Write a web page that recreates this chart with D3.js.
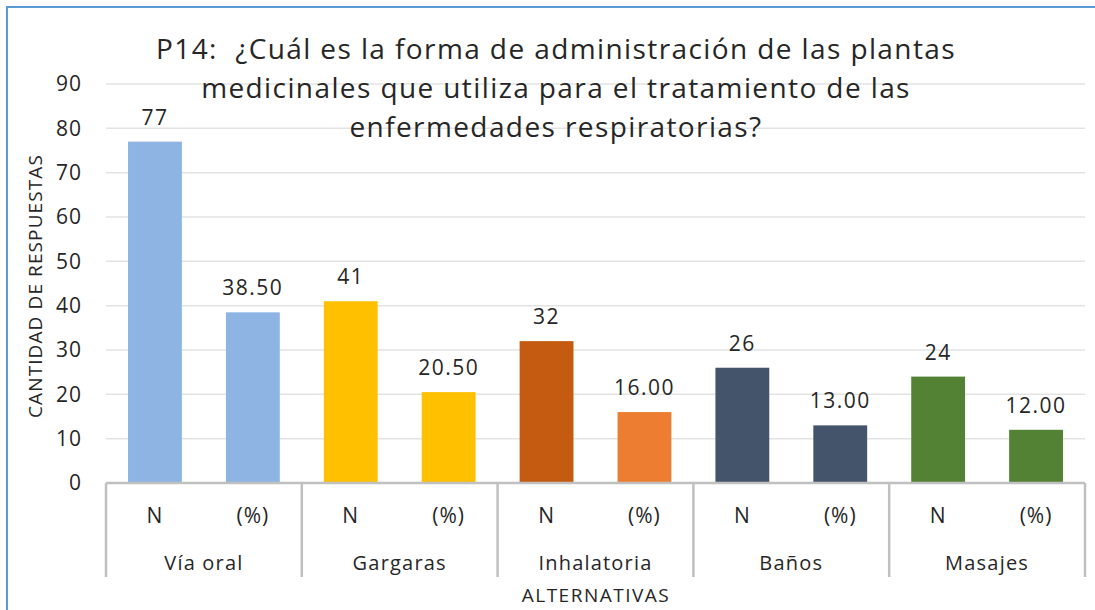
<!DOCTYPE html>
<html lang="es">
<head>
<meta charset="UTF-8">
<script src="https://d3js.org/d3.v7.min.js"></script>
<title>P14</title>
<style>
    body { margin: 0; background: #fff; }
    svg { display: block; }
    text { font-family: "Open Sans", "Noto Sans", sans-serif; fill: #262626; }
</style>
</head>
<body>
<svg id="chart" width="1095" height="610"></svg>
<script>
    // datos
    const groups = ["Vía oral", "Gargaras", "Inhalatoria", "Baños", "Masajes"];
    const subLabels = ["N", "(%)"];
    const nValues = [77, 41, 32, 26, 24];
    const pctValues = [38.50, 20.50, 16.00, 13.00, 12.00];
    const nColors = ["#8DB4E2", "#FFC000", "#C55A11", "#44546A", "#548235"];
    const pctColors = ["#8DB4E2", "#FFC000", "#ED7D31", "#44546A", "#548235"];
    const yTicks = [0, 10, 20, 30, 40, 50, 60, 70, 80, 90];
    const titleLines = [
        "P14:  ¿Cuál es la forma de administración de las plantas",
        "medicinales que utiliza para el tratamiento de las",
        "enfermedades respiratorias?"
    ];

    const svg = d3.select("#chart");
    const plotLeft = 106, plotRight = 1085, plotTop = 84, plotBottom = 483;

    // marco exterior
    svg.append("rect")
        .attr("x", 7).attr("y", 7)
        .attr("width", 1100).attr("height", 620)
        .attr("fill", "none")
        .attr("stroke", "#5B9BD5")
        .attr("stroke-width", 2);

    const y = d3.scaleLinear().domain([0, 90]).range([plotBottom, plotTop]);
    const x0 = d3.scaleBand().domain(groups).range([plotLeft, plotRight]);
    const x1 = d3.scaleBand().domain(subLabels).range([0, x0.bandwidth()]).paddingInner(0.45).paddingOuter(0.225);

    // rejilla
    svg.append("g").selectAll("line")
        .data(yTicks.filter(d => d > 0))
        .join("line")
        .attr("x1", plotLeft).attr("x2", plotRight)
        .attr("y1", d => y(d)).attr("y2", d => y(d))
        .attr("stroke", "#E3E3E3")
        .attr("stroke-width", 1.5);

    // eje y
    const yAxis = svg.append("g")
        .attr("transform", `translate(${plotLeft},0)`)
        .call(d3.axisLeft(y).tickValues(yTicks).tickSize(0).tickPadding(24));
    yAxis.select(".domain").remove();
    yAxis.attr("font-family", null);
    yAxis.selectAll("text")
        .style("font-size", "21px")
        .style("letter-spacing", "1px")
        .attr("fill", "#262626");

    // barras
    const rows = [];
    groups.forEach((g, i) => {
        rows.push({ g, s: "N", v: nValues[i], c: nColors[i], label: d3.format("d")(nValues[i]) });
        rows.push({ g, s: "(%)", v: pctValues[i], c: pctColors[i], label: d3.format(".2f")(pctValues[i]) });
    });

    svg.append("g").selectAll("rect")
        .data(rows)
        .join("rect")
        .attr("x", d => x0(d.g) + x1(d.s))
        .attr("y", d => y(d.v))
        .attr("width", x1.bandwidth())
        .attr("height", d => plotBottom - y(d.v))
        .attr("fill", d => d.c);

    svg.append("g").selectAll("text")
        .data(rows)
        .join("text")
        .attr("x", d => x0(d.g) + x1(d.s) + x1.bandwidth() / 2)
        .attr("y", d => y(d.v) - 17)
        .attr("text-anchor", "middle")
        .style("font-size", "21px")
        .style("letter-spacing", "1.5px")
        .text(d => d.label);

    // eje x con categorias en dos niveles
    svg.append("line")
        .attr("x1", plotLeft).attr("x2", plotRight)
        .attr("y1", plotBottom).attr("y2", plotBottom)
        .attr("stroke", "#C0C0C0").attr("stroke-width", 2.5);

    svg.append("g").selectAll("line")
        .data(groups.concat(["__end"]))
        .join("line")
        .attr("x1", d => d === "__end" ? plotRight : x0(d))
        .attr("x2", d => d === "__end" ? plotRight : x0(d))
        .attr("y1", plotBottom).attr("y2", 577)
        .attr("stroke", "#C0C0C0").attr("stroke-width", 2.5);

    svg.append("g").selectAll("text")
        .data(rows)
        .join("text")
        .attr("x", d => x0(d.g) + x1(d.s) + x1.bandwidth() / 2)
        .attr("y", 523)
        .attr("text-anchor", "middle")
        .style("font-size", "21px")
        .style("letter-spacing", "1px")
        .text(d => d.s);

    svg.append("g").selectAll("text")
        .data(groups)
        .join("text")
        .attr("x", d => x0(d) + x0.bandwidth() / 2)
        .attr("y", 570)
        .attr("text-anchor", "middle")
        .style("font-size", "20px")
        .style("letter-spacing", "1.2px")
        .text(d => d);

    // titulos de ejes
    svg.append("text")
        .attr("x", 596).attr("y", 602)
        .attr("text-anchor", "middle")
        .style("font-size", "19px")
        .style("letter-spacing", "1.5px")
        .text("ALTERNATIVAS");

    svg.append("text")
        .attr("transform", "translate(42,286) rotate(-90)")
        .attr("text-anchor", "middle")
        .style("font-size", "19px")
        .style("letter-spacing", "1.1px")
        .text("CANTIDAD DE RESPUESTAS");

    // titulo
    svg.append("text")
        .attr("text-anchor", "middle")
        .style("font-size", "28px")
        .style("letter-spacing", "1.4px")
        .style("white-space", "pre")
        .selectAll("tspan")
        .data(titleLines)
        .join("tspan")
        .attr("x", 556)
        .attr("y", (d, i) => 59 + i * 39)
        .text(d => d);
</script>
</body>
</html>
